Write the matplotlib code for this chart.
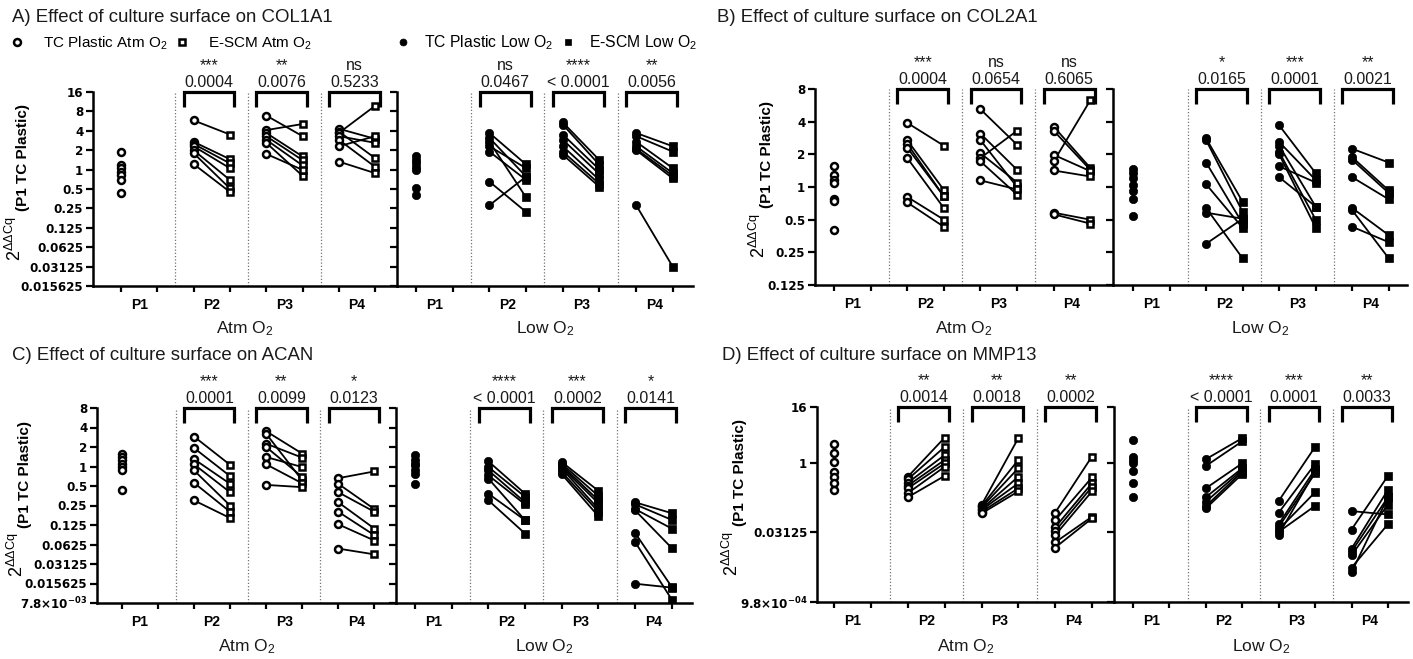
import matplotlib
matplotlib.use("Agg")
import matplotlib.pyplot as plt
import matplotlib.transforms as mtransforms
from matplotlib.lines import Line2D
from matplotlib.ticker import FixedLocator, NullLocator

plt.rcParams['font.family'] = ['Liberation Sans', 'DejaVu Sans']
plt.rcParams['mathtext.fontset'] = 'custom'
plt.rcParams['mathtext.rm'] = 'Liberation Sans'
plt.rcParams['mathtext.bf'] = 'Liberation Sans:bold'
plt.rcParams['mathtext.it'] = 'Liberation Sans:italic'
plt.rcParams['mathtext.sf'] = 'Liberation Sans'

W, H = 1413, 659

PASSAGES = ['P1', 'P2', 'P3', 'P4']

# ---- relative expression, 2^ddCq vs P1 TC Plastic ----
# *_TC: P1..P4 on TC Plastic; *_ESCM: P2..P4 on E-SCM (same donor order)

COL1A1_ATM_TC = [
    [1.9, 1.18, 1.05, 0.93, 0.82, 0.69, 0.43],
    [5.8, 2.7, 2.5, 2.3, 2.0, 1.8, 1.22],
    [6.9, 4.1, 3.7, 3.3, 2.9, 2.6, 1.75],
    [4.3, 3.9, 3.7, 3.3, 2.9, 2.3, 1.33],
]
COL1A1_ATM_ESCM = [
    [3.5, 1.45, 1.25, 1.05, 0.69, 0.51, 0.45],
    [3.3, 5.1, 1.6, 1.4, 1.16, 0.8, 0.99],
    [3.0, 1.5, 9.8, 2.6, 1.1, 3.3, 0.88],
]
COL1A1_LOW_TC = [
    [1.6, 1.4, 1.25, 1.1, 0.97, 0.52, 0.40],
    [3.7, 3.1, 2.7, 2.3, 1.9, 0.65, 0.28],
    [5.4, 5.0, 3.5, 2.9, 2.3, 1.9, 1.7],
    [3.7, 3.3, 2.7, 2.3, 2.1, 2.0, 0.28],
]
COL1A1_LOW_ESCM = [
    [1.2, 0.78, 0.37, 1.05, 0.69, 0.22, 0.78],
    [1.4, 1.18, 1.0, 0.85, 0.69, 0.6, 0.54],
    [2.3, 1.9, 1.05, 0.88, 0.8, 0.73, 0.031],
]

COL2A1_ATM_TC = [
    [1.55, 1.3, 1.15, 1.1, 0.77, 0.75, 0.40],
    [3.9, 2.7, 2.5, 2.3, 1.85, 0.81, 0.72],
    [5.2, 3.1, 2.7, 2.05, 1.85, 1.72, 1.15],
    [3.6, 3.3, 1.98, 1.72, 1.42, 0.58, 0.56],
]
COL2A1_ATM_ESCM = [
    [2.4, 0.94, 0.82, 0.82, 0.64, 0.50, 0.43],
    [2.45, 1.44, 1.0, 1.1, 3.3, 0.85, 0.95],
    [1.5, 1.44, 1.4, 6.3, 1.25, 0.50, 0.46],
]
COL2A1_LOW_TC = [
    [1.47, 1.34, 1.2, 1.05, 0.92, 0.78, 0.54],
    [2.8, 2.7, 1.68, 1.06, 0.64, 0.58, 0.30],
    [3.7, 2.6, 2.4, 2.1, 2.0, 1.55, 1.23],
    [2.25, 1.88, 1.78, 1.23, 0.64, 0.61, 0.43],
]
COL2A1_LOW_ESCM = [
    [0.73, 0.59, 0.46, 0.42, 0.22, 0.51, 0.51],
    [1.34, 1.16, 0.66, 0.50, 0.42, 1.1, 0.66],
    [1.68, 0.93, 0.88, 0.77, 0.36, 0.22, 0.31],
]

ACAN_ATM_TC = [
    [1.54, 1.4, 1.25, 1.11, 0.98, 0.87, 0.44],
    [2.9, 1.93, 1.3, 1.08, 0.87, 0.56, 0.30],
    [3.5, 3.2, 2.25, 2.0, 1.4, 1.08, 0.52],
    [0.66, 0.54, 0.40, 0.28, 0.20, 0.128, 0.054],
]
ACAN_ATM_ESCM = [
    [1.06, 0.71, 0.54, 0.40, 0.25, 0.20, 0.16],
    [1.58, 0.61, 1.37, 0.69, 0.98, 0.55, 0.48],
    [0.84, 0.22, 0.20, 0.11, 0.087, 0.072, 0.044],
]
ACAN_LOW_TC = [
    [1.53, 1.25, 1.1, 1.04, 0.87, 0.77, 0.54],
    [1.2, 0.98, 0.87, 0.73, 0.65, 0.38, 0.30],
    [1.17, 1.1, 1.04, 0.98, 0.93, 0.82, 0.76],
    [0.28, 0.26, 0.22, 0.21, 0.094, 0.068, 0.0155],
]
ACAN_LOW_ESCM = [
    [0.38, 0.34, 0.28, 0.26, 0.148, 0.148, 0.092],
    [0.42, 0.35, 0.30, 0.27, 0.22, 0.20, 0.17],
    [0.19, 0.15, 0.11, 0.055, 0.0138, 0.0088, 0.0135],
]

MMP13_ATM_TC = [
    [2.6, 1.66, 1.06, 0.64, 0.5, 0.36, 0.26],
    [0.5, 0.44, 0.37, 0.32, 0.28, 0.22, 0.18],
    [0.122, 0.115, 0.108, 0.10, 0.095, 0.087, 0.080],
    [0.083, 0.057, 0.040, 0.033, 0.027, 0.019, 0.0146],
]
MMP13_ATM_ESCM = [
    [3.5, 2.2, 1.47, 1.15, 0.97, 0.82, 0.52],
    [3.4, 1.15, 0.76, 0.50, 0.36, 0.28, 0.24],
    [1.36, 0.48, 0.36, 0.30, 0.24, 0.068, 0.0625],
]
MMP13_LOW_TC = [
    [3.1, 1.31, 1.15, 1.0, 0.67, 0.37, 0.18],
    [1.19, 0.85, 0.28, 0.18, 0.143, 0.115, 0.103],
    [0.149, 0.083, 0.047, 0.041, 0.036, 0.032, 0.028],
    [0.090, 0.036, 0.0139, 0.0120, 0.0100, 0.0054, 0.0043],
]
MMP13_LOW_ESCM = [
    [3.4, 2.9, 0.97, 0.76, 0.70, 0.64, 0.57],
    [2.2, 0.94, 0.72, 0.59, 0.23, 0.117, 0.65],
    [0.076, 0.52, 0.26, 0.18, 0.125, 0.047, 0.18],
]

# ---- paired test results (P2, P3, P4) ----
COL1A1_ATM_STARS, COL1A1_ATM_P = ['***', '**', 'ns'], ['0.0004', '0.0076', '0.5233']
COL1A1_LOW_STARS, COL1A1_LOW_P = ['ns', '****', '**'], ['0.0467', '< 0.0001', '0.0056']
COL2A1_ATM_STARS, COL2A1_ATM_P = ['***', 'ns', 'ns'], ['0.0004', '0.0654', '0.6065']
COL2A1_LOW_STARS, COL2A1_LOW_P = ['*', '***', '**'], ['0.0165', '0.0001', '0.0021']
ACAN_ATM_STARS, ACAN_ATM_P = ['***', '**', '*'], ['0.0001', '0.0099', '0.0123']
ACAN_LOW_STARS, ACAN_LOW_P = ['****', '***', '*'], ['< 0.0001', '0.0002', '0.0141']
MMP13_ATM_STARS, MMP13_ATM_P = ['**', '**', '**'], ['0.0014', '0.0018', '0.0002']
MMP13_LOW_STARS, MMP13_LOW_P = ['****', '***', '**'], ['< 0.0001', '0.0001', '0.0033']

# ---- y axes ----
COL1A1_YTICKS = [16, 8, 4, 2, 1, 0.5, 0.25, 0.125, 0.0625, 0.03125, 0.015625]
COL1A1_YLABELS = ['16', '8', '4', '2', '1', '0.5', '0.25', '0.125', '0.0625', '0.03125', '0.015625']
COL2A1_YTICKS = [8, 4, 2, 1, 0.5, 0.25, 0.125]
COL2A1_YLABELS = ['8', '4', '2', '1', '0.5', '0.25', '0.125']
ACAN_YTICKS = [8, 4, 2, 1, 0.5, 0.25, 0.125, 0.0625, 0.03125, 0.015625, 2 ** -7]
ACAN_YLABELS = ['8', '4', '2', '1', '0.5', '0.25', '0.125', '0.0625', '0.03125', '0.015625',
                r'7.8×10$\mathregular{^{-03}}$']
MMP13_YTICKS = [16, 1, 0.03125, 2 ** -10]
MMP13_YLABELS = ['16', '1', '0.03125', r'9.8×10$\mathregular{^{-04}}$']

TITLES = ['A) Effect of culture surface on COL1A1',
          'B) Effect of culture surface on COL2A1',
          'C) Effect of culture surface on ACAN',
          'D) Effect of culture surface on MMP13']

fig = plt.figure(figsize=(W / 100, H / 100), dpi=100)
fig.patch.set_facecolor('white')


def px_rect(l, r, t, b):
    return [l / W, 1 - b / H, (r - l) / W, (b - t) / H]


def style_axes(ax, xlim, ylim, yticks, ylabels, tick_fs, show_ylabels):
    ax.set_yscale('log', base=2)
    ax.set_xlim(*xlim)
    ax.set_ylim(*ylim)
    ax.yaxis.set_major_locator(FixedLocator(yticks))
    ax.yaxis.set_minor_locator(NullLocator())
    if show_ylabels:
        ax.set_yticklabels(ylabels, fontsize=tick_fs, fontweight='bold',
                           family='DejaVu Sans')
    else:
        ax.tick_params(axis='y', labelleft=False)
    ax.set_xticks(range(8))
    ax.set_xticklabels([])
    ax.set_xticks([0.5, 2.5, 4.5, 6.5], minor=True)
    ax.set_xticklabels(PASSAGES, minor=True, fontweight='bold', fontsize=10)
    ax.tick_params(axis='x', which='minor', length=0, pad=8.5)
    ax.tick_params(axis='x', which='major', length=4, width=1.6, direction='out')
    ax.tick_params(axis='y', which='major', length=5, width=1.6, direction='out', pad=2)
    for side in ('top', 'right'):
        ax.spines[side].set_visible(False)
    for side in ('left', 'bottom'):
        ax.spines[side].set_linewidth(1.8)
    ax.patch.set_alpha(0)
    for xs in (1.5, 3.5, 5.5):
        ax.axvline(xs, color='0.45', ls=(0, (1, 1.6)), lw=0.9, zorder=1)


def plot_condition(ax, tc, escm, filled):
    face = 'black' if filled else 'white'
    circ = dict(ls='none', marker='o', mfc=face, mec='black',
                ms=6.0 if filled else 5.0, mew=0.5 if filled else 1.8, zorder=4)
    sq = dict(ls='none', marker='s', mfc=face, mec='black',
              ms=5.6 if filled else 4.6, mew=0.5 if filled else 1.8, zorder=4)
    ax.plot([0] * len(tc[0]), tc[0], **circ)
    for g in range(1, 4):
        x0, x1 = 2 * g, 2 * g + 1
        for a, b in zip(tc[g], escm[g - 1]):
            ax.plot([x0, x1], [a, b], color='black', lw=1.3, zorder=3)
        ax.plot([x0] * len(tc[g]), tc[g], **circ)
        ax.plot([x1] * len(escm[g - 1]), escm[g - 1], **sq)


def annotate(ax, stars, pvals, h_px):
    trans = mtransforms.blended_transform_factory(ax.transData, ax.transAxes)
    leg = 15 / h_px
    for g in range(1, 4):
        x0, x1 = 2 * g - 0.27, 2 * g + 1.12
        ax.plot([x0, x0, x1, x1], [1 - leg, 1, 1, 1 - leg], transform=trans,
                clip_on=False, color='black', lw=2.3, solid_joinstyle='miter',
                solid_capstyle='butt', zorder=5)
        xm = 0.5 * (x0 + x1)
        ax.text(xm, 1 + 5 / h_px, pvals[g - 1], transform=trans, ha='center',
                va='baseline', fontsize=11.5, color='#1a1a1a')
        ax.text(xm, 1 + 22 / h_px, stars[g - 1], transform=trans, ha='center',
                va='baseline', fontsize=11.5, color='#1a1a1a')


def panel(atm_box, low_box, atm_xlim, low_xlim, ylim, yticks, ylabels, tick_fs,
          atm_tc, atm_escm, low_tc, low_escm, atm_stats, low_stats,
          title, title_xy, ylabel_x, group_y):
    t, b = atm_box[2], atm_box[3]
    h_px = b - t
    ax1 = fig.add_axes(px_rect(*atm_box))
    ax2 = fig.add_axes(px_rect(*low_box))
    style_axes(ax1, atm_xlim, ylim, yticks, ylabels, tick_fs, True)
    style_axes(ax2, low_xlim, ylim, yticks, ylabels, tick_fs, False)
    plot_condition(ax1, atm_tc, atm_escm, False)
    plot_condition(ax2, low_tc, low_escm, True)
    annotate(ax1, atm_stats[0], atm_stats[1], h_px)
    annotate(ax2, low_stats[0], low_stats[1], h_px)
    fig.text(title_xy[0] / W, 1 - title_xy[1] / H, title, ha='left', va='center',
             fontsize=13.4, color='#1a1a1a')
    # y label: raised 2^ddCq followed by the bold reference text
    fig.text(ylabel_x / W, 1 - (t + 66) / H, '(P1 TC Plastic)', rotation=90,
             ha='center', va='center', fontsize=11, fontweight='bold')
    fig.text((ylabel_x - 8) / W, 1 - (t + 147) / H,
             r'$\mathrm{2}^{\mathrm{\Delta\Delta Cq}}$', rotation=90,
             ha='center', va='center', fontsize=13)
    for box, name in ((atm_box, 'Atm O$_2$'), (low_box, 'Low O$_2$')):
        cx = 0.5 * (box[0] + box[1])
        fig.text(cx / W, 1 - group_y / H, name, ha='center', va='center',
                 fontsize=12.5, color='#1a1a1a')


panel((93, 397, 92, 286), (397, 693, 92, 286), (-0.77, 7.6), (-0.52, 7.55),
      (2 ** -6, 2 ** 4), COL1A1_YTICKS, COL1A1_YLABELS, 8.6,
      COL1A1_ATM_TC, COL1A1_ATM_ESCM, COL1A1_LOW_TC, COL1A1_LOW_ESCM,
      (COL1A1_ATM_STARS, COL1A1_ATM_P), (COL1A1_LOW_STARS, COL1A1_LOW_P),
      TITLES[0], (12, 17), 23, 329)

panel((815, 1113, 89, 285), (1113, 1407, 89, 285), (-0.52, 7.62), (-0.55, 7.5),
      (2 ** -3, 2 ** 3), COL2A1_YTICKS, COL2A1_YLABELS, 8.6,
      COL2A1_ATM_TC, COL2A1_ATM_ESCM, COL2A1_LOW_TC, COL2A1_LOW_ESCM,
      (COL2A1_ATM_STARS, COL2A1_ATM_P), (COL2A1_LOW_STARS, COL2A1_LOW_P),
      TITLES[1], (717, 17), 767, 329)

panel((97, 396, 408, 603), (396, 692, 408, 603), (-0.69, 7.6), (-0.52, 7.55),
      (2 ** -7, 2 ** 3), ACAN_YTICKS, ACAN_YLABELS, 8.6,
      ACAN_ATM_TC, ACAN_ATM_ESCM, ACAN_LOW_TC, ACAN_LOW_ESCM,
      (ACAN_ATM_STARS, ACAN_ATM_P), (ACAN_LOW_STARS, ACAN_LOW_P),
      TITLES[2], (12, 355), 25, 647)

panel((817, 1114, 407, 602), (1114, 1408, 407, 602), (-0.47, 7.6), (-0.52, 7.55),
      (2 ** -10, 2 ** 4), MMP13_YTICKS, MMP13_YLABELS, 8.6,
      MMP13_ATM_TC, MMP13_ATM_ESCM, MMP13_LOW_TC, MMP13_LOW_ESCM,
      (MMP13_ATM_STARS, MMP13_ATM_P), (MMP13_LOW_STARS, MMP13_LOW_P),
      TITLES[3], (722, 355), 740, 647)

# legend row above panel A
h_tc_atm = Line2D([], [], ls='none', marker='o', ms=5.0, mfc='white', mec='black', mew=1.8)
h_es_atm = Line2D([], [], ls='none', marker='s', ms=4.6, mfc='white', mec='black', mew=1.8)
h_tc_low = Line2D([], [], ls='none', marker='o', ms=5.0, mfc='black', mec='black', mew=0.5)
h_es_low = Line2D([], [], ls='none', marker='s', ms=5.0, mfc='black', mec='black', mew=0.5)
fig.legend([h_tc_atm, h_es_atm], ['TC Plastic Atm O$_2$', 'E-SCM Atm O$_2$'],
           loc='center left', bbox_to_anchor=(9 / W, 1 - 43 / H), ncol=2, frameon=False,
           fontsize=11, handlelength=1.0, handletextpad=1.2, columnspacing=0.5,
           borderpad=0, borderaxespad=0)
fig.legend([h_tc_low, h_es_low], ['TC Plastic Low O$_2$', 'E-SCM Low O$_2$'],
           loc='center left', bbox_to_anchor=(395 / W, 1 - 43 / H), ncol=2, frameon=False,
           fontsize=11.3, handlelength=1.0, handletextpad=0.85, columnspacing=0.45,
           borderpad=0, borderaxespad=0)

fig.savefig('out.png', dpi=100, facecolor='white')
